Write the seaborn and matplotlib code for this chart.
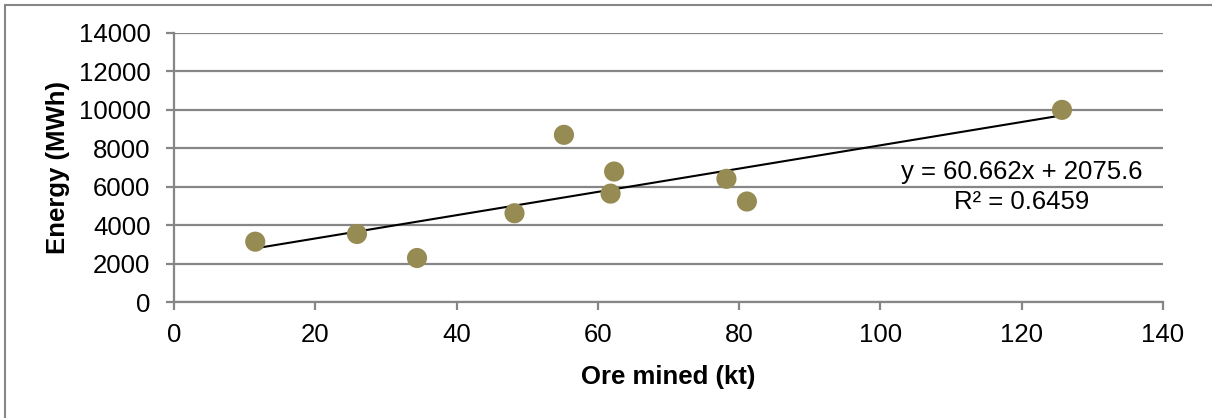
import matplotlib
matplotlib.use("Agg")
import matplotlib.pyplot as plt
import seaborn as sns
import pandas as pd
from matplotlib.lines import Line2D

ore_mined_kt = [11.5, 25.9, 34.4, 48.2, 55.2, 61.8, 62.3, 78.2, 81.1, 125.7]
energy_mwh = [3140, 3540, 2290, 4620, 8700, 5640, 6790, 6410, 5230, 10000]
x_ticks = [0, 20, 40, 60, 80, 100, 120, 140]
y_ticks = [0, 2000, 4000, 6000, 8000, 10000, 12000, 14000]
equation_text = "y = 60.662x + 2075.6\nR² = 0.6459"

df = pd.DataFrame({"Ore mined (kt)": ore_mined_kt, "Energy (MWh)": energy_mwh})

sns.set_style("white")
plt.rcParams["font.family"] = ["Liberation Sans", "DejaVu Sans"]
plt.rcParams["text.color"] = "black"
plt.rcParams["axes.labelcolor"] = "black"
plt.rcParams["xtick.color"] = "black"
plt.rcParams["ytick.color"] = "black"

FS = 18.5

fig = plt.figure(figsize=(12.12, 4.18), dpi=100)
ax = fig.add_axes([174/1212, 1-302/418, (1163-174)/1212, (302-33)/418])

grid_c = "#868686"
ax.set_axisbelow(True)
for yv in y_ticks:
    ax.axhline(yv, color=grid_c, lw=1.6, zorder=0)

sns.regplot(data=df, x="Ore mined (kt)", y="Energy (MWh)", ax=ax, scatter=False,
            ci=None, truncate=True, line_kws=dict(color="black", lw=1.5, zorder=2))
sns.scatterplot(data=df, x="Ore mined (kt)", y="Energy (MWh)", ax=ax,
                color="#968B53", s=210, edgecolor="none", zorder=3)

ax.set_xlim(0, 140)
ax.set_ylim(0, 14000)
ax.set_xticks(x_ticks)
ax.set_yticks(y_ticks)
ax.tick_params(axis="both", labelsize=FS, length=6, width=1.6, color=grid_c,
               labelcolor="black", direction="out", left=True, bottom=True)
ax.tick_params(axis="y", pad=11)
ax.tick_params(axis="x", pad=9)
for s in ["top", "right"]:
    ax.spines[s].set_visible(False)
for s in ["left", "bottom"]:
    ax.spines[s].set_color(grid_c)
    ax.spines[s].set_linewidth(1.6)

ax.set_xlabel("Ore mined (kt)", fontsize=FS, fontweight="bold", labelpad=13)
ax.set_ylabel("Energy (MWh)", fontsize=FS, fontweight="bold", labelpad=6)

ax.text(120.0, 5990, equation_text, fontsize=FS, ha="center", va="center",
        multialignment="center", linespacing=1.3, zorder=4)

# partial chart-area border (top and left edges visible in the crop)
fig.add_artist(Line2D([5/1212, 5/1212], [0, 1-5/418], transform=fig.transFigure,
                      color=grid_c, lw=1.5))
fig.add_artist(Line2D([5/1212, 1], [1-5/418, 1-5/418], transform=fig.transFigure,
                      color=grid_c, lw=1.5))

fig.savefig("out.png", dpi=100)
